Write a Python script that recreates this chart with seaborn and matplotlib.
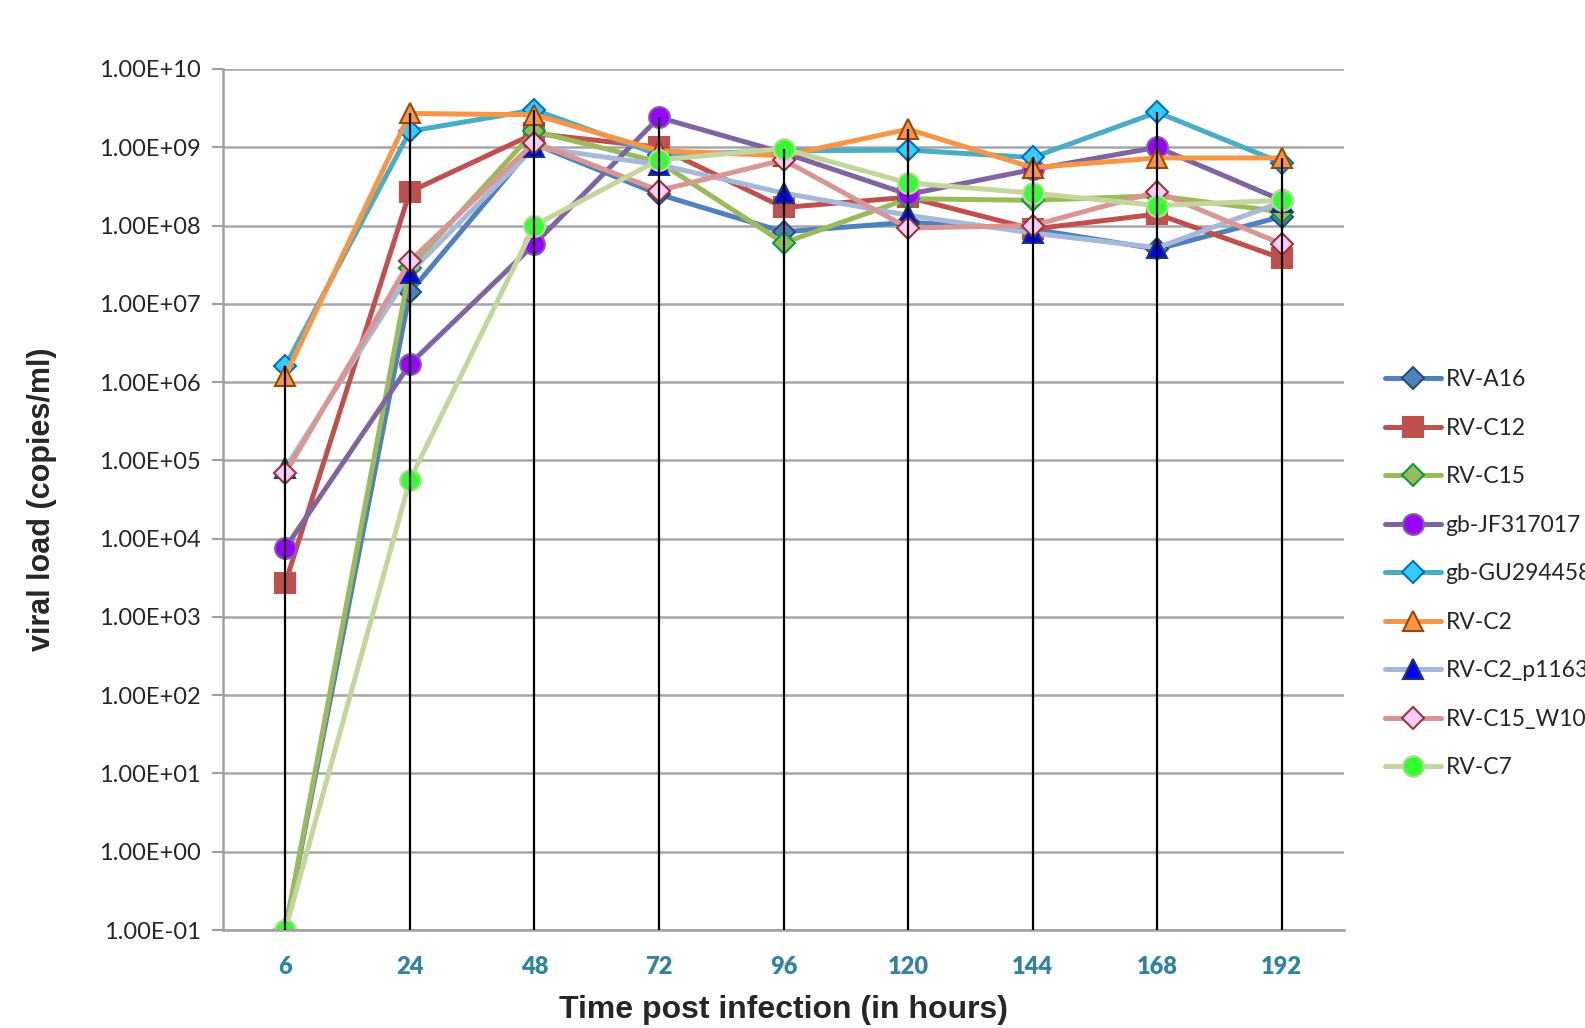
import numpy as np
import pandas as pd
import seaborn as sns
import matplotlib
matplotlib.use('Agg')
import matplotlib.pyplot as plt
from matplotlib.ticker import FixedLocator, FuncFormatter, NullLocator

hours = [6, 24, 48, 72, 96, 120, 144, 168, 192]

rv_a16 = [0.1, 1.4e7, 1.1e9, 2.5e8, 8.3e7, 1.1e8, 9.0e7, 5.0e7, 1.3e8]
rv_c12 = [2.7e3, 2.7e8, 1.5e9, 1.0e9, 1.7e8, 2.3e8, 9.0e7, 1.4e8, 3.8e7]
rv_c15 = [0.1, 2.9e7, 1.6e9, 6.5e8, 6.0e7, 2.2e8, 2.1e8, 2.4e8, 1.5e8]
gb_jf317017 = [7.6e3, 1.7e6, 5.8e7, 2.4e9, 8.5e8, 2.5e8, 5.2e8, 1.0e9, 2.1e8]
gb_gu294458 = [1.6e6, 1.6e9, 3.0e9, 8.0e8, 9.0e8, 9.2e8, 7.4e8, 2.8e9, 6.3e8]
rv_c2 = [1.2e6, 2.7e9, 2.6e9, 9.0e8, 7.8e8, 1.7e9, 5.5e8, 7.3e8, 7.3e8]
rv_c2_p1163 = [8.0e4, 2.5e7, 1.0e9, 6.0e8, 2.6e8, 1.35e8, 8.0e7, 5.2e7, 2.0e8]
rv_c15_w10 = [6.8e4, 3.5e7, 1.15e9, 2.8e8, 6.9e8, 9.3e7, 1.0e8, 2.7e8, 5.8e7]
rv_c7 = [0.1, 5.6e4, 1.0e8, 6.9e8, 9.6e8, 3.5e8, 2.6e8, 1.8e8, 2.1e8]

series_names = ['RV-A16', 'RV-C12', 'RV-C15', 'gb-JF317017', 'gb-GU294458',
                'RV-C2', 'RV-C2_p1163', 'RV-C15_W10', 'RV-C7']
series_values = [rv_a16, rv_c12, rv_c15, gb_jf317017, gb_gu294458,
                 rv_c2, rv_c2_p1163, rv_c15_w10, rv_c7]

# line colour, marker, marker face, marker edge, marker size
styles = {
    'RV-A16': ('#4F81BD', 'D', '#4F81BD', '#2C4D75', 11),
    'RV-C12': ('#C0504D', 's', '#C0504D', '#C0504D', 14),
    'RV-C15': ('#9BBB59', 'D', '#9BBB59', '#00A040', 11),
    'gb-JF317017': ('#8064A2', 'o', '#9900FF', '#8064A2', 15),
    'gb-GU294458': ('#4BACC6', 'D', '#33CCFF', '#0070C0', 11),
    'RV-C2': ('#F79646', '^', '#F79646', '#984807', 15),
    'RV-C2_p1163': ('#A7B9DA', '^', '#0000FF', '#1F3864', 15),
    'RV-C15_W10': ('#D99694', 'D', '#FFCCFF', '#953735', 11),
    'RV-C7': ('#C3D69B', 'o', '#33FF33', '#C3D69B', 15),
}

sns.set_style('white')
plt.rcParams['font.family'] = ['Lato', 'DejaVu Sans']

fig = plt.figure(figsize=(15.85, 10.28), dpi=100)
ax = fig.add_axes([0.1407, 0.0953, 0.7073, 0.8376])

pos = np.arange(len(hours))
for name, vals in zip(series_names, series_values):
    lc, mk, mf, me, ms = styles[name]
    sns.lineplot(x=pos, y=vals, ax=ax, color=lc, lw=3.6, marker=mk,
                 markerfacecolor=mf, markeredgecolor=me, markeredgewidth=1.5,
                 ms=ms, label=name, sort=False, estimator=None)

ax.set_yscale('log')
ax.set_ylim(0.1, 1e10)
ax.set_xlim(-0.5, len(hours) - 0.5)

# drop lines from the highest point to the axis
tops = np.max(np.array(series_values), axis=0)
ax.vlines(pos, 0.1, tops, color='black', lw=1.6, zorder=10)

decades = [10.0 ** k for k in range(-1, 11)]
ax.yaxis.set_major_locator(FixedLocator(decades))
ax.yaxis.set_minor_locator(NullLocator())
ax.yaxis.set_major_formatter(FuncFormatter(lambda v, p: '{:.2E}'.format(v)))
ax.set_xticks(pos)
ax.set_xticklabels([str(h) for h in hours], fontweight='heavy', color='#31859C')
ax.tick_params(axis='x', length=0, labelsize=17, pad=19)
ax.tick_params(axis='y', length=8, width=1.5, color='#A0A0A0', labelsize=17,
               direction='out', pad=8, left=True)

ax.grid(axis='y', color='#A6A6A6', lw=1.8)
ax.grid(axis='x', visible=False)
ax.set_axisbelow(True)
for side in ['top', 'right']:
    ax.spines[side].set_visible(False)
for side in ['left', 'bottom']:
    ax.spines[side].set_color('#A0A0A0')
    ax.spines[side].set_linewidth(1.8)

ax.set_xlabel('Time post infection (in hours)', fontsize=23, fontweight='bold',
              family='Liberation Sans', labelpad=12)
ax.set_ylabel('viral load (copies/ml)', fontsize=22, fontweight='bold',
              family='Liberation Sans', labelpad=30)

# legend sits against the right edge, long names run off the figure as in the source
leg = ax.legend(loc='center left', bbox_to_anchor=(0.868, 0.442),
                bbox_transform=fig.transFigure, frameon=False, fontsize=16.5,
                handlelength=2.45, handletextpad=0.2, labelspacing=1.2,
                borderaxespad=0)

fig.savefig('out.png', dpi=100)
